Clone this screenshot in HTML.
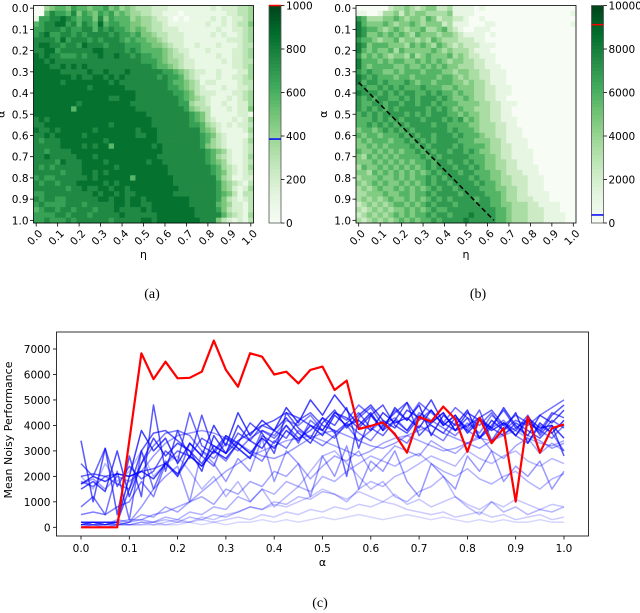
<!DOCTYPE html>
<html><head><meta charset="utf-8"><style>
html,body{margin:0;padding:0;background:#fff;}
svg{display:block;font-family:"DejaVu Sans","Liberation Sans",sans-serif;}
.cap{font-family:"Liberation Serif",serif;font-size:14px;}
</style></head><body>
<svg id="fig" width="640" height="613" viewBox="0 0 640 613" xmlns="http://www.w3.org/2000/svg">
<g id="pa"></g>
<g id="pb"></g>
<g id="pc"></g>
<text class="cap" x="152" y="298" text-anchor="middle">(a)</text>
<text class="cap" x="478" y="298" text-anchor="middle">(b)</text>
<text class="cap" x="320" y="607" text-anchor="middle">(c)</text>
</svg>
<script>
// ---------- data ----------
const etaTicks = ["0.0","0.1","0.2","0.3","0.4","0.5","0.6","0.7","0.8","0.9","1.0"];
const alphaTicks = ["0.0","0.1","0.2","0.3","0.4","0.5","0.6","0.7","0.8","0.9","1.0"];
const cbarTicksA = [0,200,400,600,800,1000];
const cbarTicksB = [0,2000,4000,6000,8000,10000];
const markersA = [386, 1000];
const markersB = [370, 9120];
// heatmap A: digit d -> value d*95 (rows alpha 0..1, cols eta 0..1)
const heatA = [
"00456657665667564543332221111111121222334",
"00687768576576756544332211101111111122334",
"17788987677585766645443221010111121212234",
"67889978687696776655443321111111211212335",
"77888787788687877656543322211111112112234",
"78977887878888787767554332221111121211234",
"88887978887878887676655432221111111122234",
"89988788798887888777665543221121112111233",
"88997888888998888787666654322111211112234",
"98988777878898898878776654332111112112234",
"99898888888888888888777654432211111212233",
"99988989898888888888887665432211111112234",
"99999888889889888988888877654322112111224",
"99999998988998989888888787764321112112234",
"99999899999999898888888887665431221111233",
"99999999998999999888888887765432111211223",
"99999999999999999998888888776532221112234",
"99999999999999889998888888876543211121234",
"99999999899999999988888888877433211211224",
"99999996999999999998888888887543311121225",
"99999999999999999999988888888765311111221",
"89899999999999999999998888888765321112124",
"88999999999999899999998888888776432121223",
"98898999999899999998999888888886542111124",
"88989999989999999998899888888887653211113",
"87888999999998999999999888888887643211124",
"88888999989899699999998988888887543211123",
"88788889999999999999999988888888765421123",
"88988888999899999999999888888888764321124",
"88887988899998999999989988888888765421123",
"87878888899999989999999998888888876432124",
"88888788899898999999999998888888876532123",
"78778888889899999969999999888888886431122",
"87887888999998989999999999888888887543213",
"88888878898899899899999999988888887542124",
"77888888888989989889999999888888887653133",
"87887788888899899899899999999888887532123",
"78777788878888899899889999999888886542213",
"67887887888788898888989999999988887532213",
"77778878887888889888888999999988888643214",
"77877787888888788888998999999998885321213"
];
// heatmap B: digit d -> value d*1150
const heatB = [
"00000023343234422311110100000000000000000",
"11001334243443333411110000000000000000001",
"65333445434435423322100100000000000000000",
"75444543445434442311100011000000000000001",
"76554345434453345321001110000000000000000",
"76445454543544434432111101000000000000000",
"65543445344343543332221100000000000000000",
"76455544435454354323222111000000000000000",
"75454453544444543433321110000000000000000",
"64545434435345444534322111000000000000000",
"75554545544545454344332211000000000000000",
"75455554454454545443332211100000000000000",
"65655445455545554434433221110000000000000",
"76565554554555545543433221110000000000000",
"75665655565455455544343321110000000000000",
"66556565655565554454443322111000000000000",
"76665656566556565545443322111000000000000",
"65656655656566656544543322110000000000000",
"65566566566566565554444332211100000000000",
"65656565666665656545443332211000000000000",
"56565666656565666554544332211000000000000",
"55565656566656665656454332211100000000000",
"55656565656666566555544333221100000000000",
"45545656565666666565554333221110000000000",
"54554555656566566656555433221110000000000",
"45455545565656566665554443321111000000000",
"44545455556565666656555543322111000000000",
"54454545455656566566565443322111100000000",
"43545454555565656666655544322111100000000",
"44454545454556566566565544332211100000000",
"35445454545456566656656544332211110000000",
"44354545454545656665665554432221110000000",
"34445445454556565666656554433222111000000",
"43454544545456566566665655433222111000000",
"34345445454545656656666555443322111000000",
"33444544554556566665666655543322111100000",
"34343454454545656566665665543322211100000",
"23434345545456566656666665544333221111000",
"32343434454545655666666666554333222111000",
"23434345454556566566676666554333222111100",
"32343434545455656666766666554333222111100"
];
// line chart (c)
const alphaGrid = []; for (let i=0;i<=40;i++) alphaGrid.push(i*0.025);
const yTicksC = [0,1000,2000,3000,4000,5000,6000,7000];
const xTicksC = [0,0.1,0.2,0.3,0.4,0.5,0.6,0.7,0.8,0.9,1.0];
const redSeries = [0,0,0,0,3400,6830,5820,6500,5850,5870,6110,7330,6180,5520,6830,6700,6000,6110,5650,6180,6310,5390,5760,3860,3980,4120,3660,2930,4340,4150,4740,4250,2970,4300,3300,3890,1010,4340,2930,3890,4040];
// blue series in hundreds
const blueSeries = [
[17,20,18,21,20,22,19,25,21,28,24,30,27,33,29,35,31,38,34,40,36,44,40,42,38,45,41,43,39,46,40,44,37,42,38,41,36,43,39,40,35],
[2,2,2,2,20,38,30,35,25,33,28,40,32,45,36,42,38,47,41,50,44,52,46,40,45,38,47,42,48,36,44,40,46,35,42,38,45,33,41,37,42],
[15,18,14,30,12,25,35,28,33,30,22,36,29,40,34,31,38,43,37,33,41,46,39,44,48,42,39,46,43,50,41,38,45,42,39,47,40,36,44,41,46],
[34,10,31,5,28,12,48,22,38,27,44,30,36,33,41,37,29,45,39,35,43,40,47,31,44,38,42,49,36,41,45,38,43,35,40,46,39,42,37,44,48],
[1,2,1,2,15,30,37,38,34,30,25,32,29,34,37,40,42,45,43,40,38,45,43,39,44,48,40,37,43,41,45,38,40,43,39,36,41,38,35,40,28],
[25,20,31,16,24,19,22,30,26,45,32,29,35,31,27,36,33,40,35,38,43,37,41,45,39,36,42,38,44,40,37,43,39,46,34,41,38,44,36,42,39],
[20,21,20,21,20,22,23,25,30,28,35,32,29,37,34,40,38,35,42,45,40,38,20,43,47,40,45,49,42,46,40,44,38,43,46,40,44,41,38,45,43],
[8,12,5,22,3,30,15,26,20,33,28,24,36,31,27,38,35,40,33,42,38,45,42,48,44,39,46,42,49,45,41,47,43,40,45,38,42,40,44,47,50],
[18,16,20,17,15,25,32,37,38,36,30,27,33,30,35,38,36,42,40,44,38,35,41,37,34,40,43,38,45,42,39,36,41,37,44,40,36,42,38,35,40],
[5,6,5,8,10,18,12,25,20,28,24,30,26,33,29,26,34,31,38,35,32,36,40,34,38,42,36,33,40,37,34,41,38,35,39,42,36,33,40,37,30],
[2,2,2,2,3,3,5,6,8,10,14,18,22,25,28,30,32,34,35,36,34,32,30,28,30,33,35,36,34,32,30,31,33,35,34,36,38,35,33,32,34],
[1,2,1,3,2,5,4,8,6,10,12,9,15,13,18,16,22,20,25,19,24,28,26,30,22,27,32,30,28,34,31,29,33,36,30,27,32,35,29,33,30],
[2,1,2,1,2,3,2,4,3,6,5,8,7,12,10,15,13,18,16,14,20,18,22,25,28,26,24,27,29,25,22,20,23,19,17,20,22,18,15,19,21],
[1,1,1,2,1,2,2,3,2,4,3,5,4,6,8,7,10,9,12,11,14,13,10,15,18,16,20,22,25,28,26,24,30,27,25,28,30,26,24,27,25],
[1,1,1,1,1,2,1,2,3,2,4,3,5,6,8,7,9,8,10,12,15,13,11,14,12,10,13,9,11,8,10,12,9,7,10,8,11,9,7,9,8],
[1,1,1,1,1,1,2,1,2,2,3,2,3,4,3,5,4,6,5,7,6,8,7,9,8,10,9,7,6,5,6,4,5,6,4,5,3,4,5,3,4],
[1,1,1,1,1,1,1,1,1,2,1,2,1,2,2,3,2,3,2,3,4,3,4,5,4,3,4,5,4,3,4,3,2,3,2,3,2,2,3,2,2],
[17,19,15,20,18,22,28,33,36,37,38,37,35,33,30,28,27,29,32,35,37,38,36,34,32,31,33,36,38,40,37,35,33,31,34,37,39,36,34,31,33],
[0,1,0,1,2,8,15,20,24,10,30,25,18,27,22,35,18,30,25,12,28,20,32,15,26,22,30,18,12,25,20,15,28,22,30,18,24,20,26,15,22],
[20,15,25,18,22,30,20,25,28,22,15,20,12,18,10,15,8,12,16,22,28,30,25,20,15,18,12,10,14,16,20,12,8,5,10,6,8,5,7,6,8]
];
const blueAlpha = [0.75,0.75,0.7,0.65,0.65,0.6,0.6,0.55,0.5,0.5,0.35,0.35,0.3,0.28,0.22,0.2,0.16,0.4,0.4,0.28];
const diagLine = {eta:[0,0.63], alpha:[0.35,1.0]};

// ---------- helpers ----------
const NS="http://www.w3.org/2000/svg";
function mk(tag, attrs, parent){const e=document.createElementNS(NS,tag);for(const k in attrs)e.setAttribute(k,attrs[k]);if(parent)parent.appendChild(e);return e;}
const stops=[[247,252,245],[229,245,224],[199,233,192],[161,217,155],[116,196,118],[65,171,93],[35,139,69],[0,109,44],[0,68,27]];
function greens(t){t=Math.max(0,Math.min(1,t));const p=t*8;const i=Math.min(7,Math.floor(p));const f=p-i;const a=stops[i],b=stops[i+1];
 return `rgb(${Math.round(a[0]+(b[0]-a[0])*f)},${Math.round(a[1]+(b[1]-a[1])*f)},${Math.round(a[2]+(b[2]-a[2])*f)})`;}

function heatmap(g, rows, scale, vmax, x0, x1, y0, y1, cb, cbTicks, markers, name){
 const n=rows.length, m=rows[0].length;
 const cw=(x1-x0)/m, ch=(y1-y0)/n;
 const cells=mk('g',{},g);
 
 
 rows.forEach((r,i)=>{for(let j=0;j<r.length;j++){const v=parseInt(r[j])*scale;
  const c=mk('rect',{x:(x0+j*cw).toFixed(2),y:(y0+i*ch).toFixed(2),width:(cw+0.4).toFixed(2),height:(ch+0.4).toFixed(2),fill:greens(v/vmax)},cells);
  
  
 }});
 const fr=mk('rect',{x:x0,y:y0,width:x1-x0,height:y1-y0,fill:'none',stroke:'#000','stroke-width':0.8},g);
 
 
 const xs=v=>x0+(v*(m-1)+0.5)*cw, ys=v=>y0+(v*(n-1)+0.5)*ch;
 etaTicks.forEach(t=>{const x=xs(+t);mk('line',{x1:x,x2:x,y1:y1,y2:y1+3.5,stroke:'#000','stroke-width':0.8},g);
  const tx=mk('text',{x:x+2,y:y1+6,'font-size':10.5,'text-anchor':'end','dominant-baseline':'hanging',transform:`rotate(-45 ${x+2} ${y1+6})`},g);tx.textContent=t;
  
  });
 alphaTicks.forEach(t=>{const y=ys(+t);mk('line',{x1:x0,x2:x0-3.5,y1:y,y2:y,stroke:'#000','stroke-width':0.8},g);
  const tx=mk('text',{x:x0-5,y:y+4,'font-size':10.5,'text-anchor':'end'},g);tx.textContent=t;
  
  });
 const xl=mk('text',{x:(x0+x1)/2,y:258,'font-size':11,'text-anchor':'middle'},g);xl.textContent='η';
 
 
 const yx=x0-29,yy=(y0+y1)/2;
 const yl=mk('text',{x:yx,y:yy,'font-size':11,'text-anchor':'middle',transform:`rotate(-90 ${yx} ${yy})`},g);yl.textContent='α';
 
 
 const cg=mk('g',{},g);
 
 
 const N=60,cy=v=>y1-(v/vmax)*(y1-y0);
 for(let k=0;k<N;k++){mk('rect',{x:cb,y:(y1-(k+1)*(y1-y0)/N).toFixed(2),width:12,height:((y1-y0)/N+0.5).toFixed(2),fill:greens((k+0.5)/N)},cg);}
 mk('rect',{x:cb,y:y0,width:12,height:y1-y0,fill:'none',stroke:'#555','stroke-width':0.8},cg);
 cbTicks.forEach(t=>{const y=cy(t);mk('line',{x1:cb+12,x2:cb+15.5,y1:y,y2:y,stroke:'#000','stroke-width':0.8},cg);
  const tx=mk('text',{x:cb+17,y:y+4,'font-size':10.5},cg);tx.textContent=t;
  
  });
 const cols=['#0000ff','#ff0000'];
 markers.forEach((v,i)=>{const y=cy(v);const l=mk('line',{x1:cb,x2:cb+12,y1:y,y2:y,stroke:cols[i],'stroke-width':1.5},cg);
  
  });
 return {xs,ys};
}

const A=heatmap(document.getElementById('pa'),heatA,95,1000,33.5,253.5,5.5,223,269,cbarTicksA,markersA,'heatmap-a');
const B=heatmap(document.getElementById('pb'),heatB,1150,10000,356,576,5.5,223,591.5,cbarTicksB,markersB,'heatmap-b');
const dl=mk('line',{x1:B.xs(diagLine.eta[0]),y1:B.ys(diagLine.alpha[0]),x2:B.xs(diagLine.eta[1]),y2:B.ys(diagLine.alpha[1]),stroke:'#000','stroke-width':1.5,'stroke-dasharray':'5,3'},document.getElementById('pb'));



// line chart
(function(){
 const g=document.getElementById('pc');
 const L=56.5,R=588.5,T=332,Bt=536;
 const xS=v=>81+v*483, yS=v=>527.3-v*0.02547;
 blueSeries.forEach((s,k)=>{const pts=s.map((v,i)=>xS(alphaGrid[i]).toFixed(1)+','+yS(v*100).toFixed(1)).join(' ');
  const p=mk('polyline',{points:pts,fill:'none',stroke:'#0000ff','stroke-opacity':blueAlpha[k],'stroke-width':1.5,'stroke-linejoin':'round'},g);
  
  });
 const rp=mk('polyline',{points:redSeries.map((v,i)=>xS(alphaGrid[i]).toFixed(1)+','+yS(v).toFixed(1)).join(' '),fill:'none',stroke:'#ff0000','stroke-width':2.2,'stroke-linejoin':'round'},g);
 
 
 const fr=mk('rect',{x:L,y:T,width:R-L,height:Bt-T,fill:'none',stroke:'#000','stroke-width':0.8},g);
 
 
 yTicksC.forEach(t=>{const y=yS(t);mk('line',{x1:L,x2:L-3.5,y1:y,y2:y,stroke:'#000','stroke-width':0.8},g);
  const tx=mk('text',{x:L-6,y:y+4,'font-size':10.5,'text-anchor':'end'},g);tx.textContent=t;
  
  });
 xTicksC.forEach(t=>{const x=xS(t);mk('line',{x1:x,x2:x,y1:Bt,y2:Bt+3.5,stroke:'#000','stroke-width':0.8},g);
  const tx=mk('text',{x:x,y:Bt+16,'font-size':10.5,'text-anchor':'middle'},g);tx.textContent=t.toFixed(1);
  
  });
 const xl=mk('text',{x:(L+R)/2,y:566,'font-size':11,'text-anchor':'middle'},g);xl.textContent='α';
 
 
 const yl=mk('text',{x:12,y:430,'font-size':11,'text-anchor':'middle',transform:'rotate(-90 12 430)'},g);yl.textContent='Mean Noisy Performance';
 
 
})();
</script>
</body></html>
